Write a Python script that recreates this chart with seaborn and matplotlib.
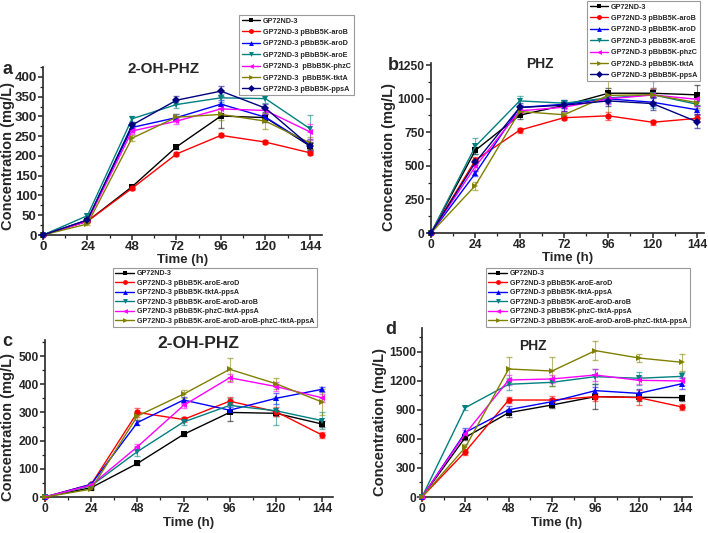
import numpy as np
import pandas as pd
import matplotlib
matplotlib.use('Agg')
import matplotlib.pyplot as plt
from matplotlib.lines import Line2D
from matplotlib.ticker import MultipleLocator
import seaborn as sns

sns.set_style('ticks')
plt.rcParams['font.family'] = ['Liberation Sans', 'DejaVu Sans']
plt.rcParams['font.weight'] = 'bold'
plt.rcParams['axes.labelweight'] = 'bold'

# %% data
time_h = [0, 24, 48, 72, 96, 120, 144]

# panels a/b: single-gene overexpression strains
a_strains = ['GP72ND-3', 'GP72ND-3 pBbB5K-aroB', 'GP72ND-3 pBbB5K-aroD',
             'GP72ND-3 pBbB5K-aroE', 'GP72ND-3  pBbB5K-phzC',
             'GP72ND-3  pBbB5K-tktA', 'GP72ND-3 pBbB5K-ppsA']
b_strains = ['GP72ND-3', 'GP72ND-3 pBbB5K-aroB', 'GP72ND-3 pBbB5K-aroD',
             'GP72ND-3 pBbB5K-aroE', 'GP72ND-3 pBbB5K-phzC',
             'GP72ND-3 pBbB5K-tktA', 'GP72ND-3 pBbB5K-ppsA']
# panels c/d: combined overexpression strains
cd_strains = ['GP72ND-3', 'GP72ND-3 pBbB5K-aroE-aroD', 'GP72ND-3 pBbB5K-tktA-ppsA',
              'GP72ND-3 pBbB5K-aroE-aroD-aroB', 'GP72ND-3 pBbB5K-phzC-tktA-ppsA',
              'GP72ND-3 pBbB5K-aroE-aroD-aroB-phzC-tktA-ppsA']

# 2-OH-PHZ (mg/L), panel a
a_conc = [[0, 35, 122, 223, 301, 297, 225],
          [0, 35, 118, 205, 252, 235, 208],
          [0, 38, 272, 297, 331, 298, 227],
          [0, 49, 294, 330, 347, 345, 269],
          [0, 35, 263, 288, 319, 315, 261],
          [0, 28, 245, 298, 305, 288, 233],
          [0, 38, 278, 341, 364, 321, 225]]
a_err = [[0, 3, 5, 5, 30, 10, 8],
         [0, 3, 5, 5, 5, 5, 5],
         [0, 3, 8, 8, 10, 8, 15],
         [0, 4, 8, 8, 10, 10, 35],
         [0, 3, 8, 8, 10, 10, 20],
         [0, 3, 8, 8, 15, 20, 15],
         [0, 3, 8, 10, 12, 10, 10]]

# PHZ (mg/L), panel b
b_conc = [[0, 615, 877, 949, 1040, 1040, 1028],
          [0, 542, 765, 858, 872, 824, 853],
          [0, 444, 934, 958, 998, 973, 917],
          [0, 645, 983, 966, 1005, 1029, 958],
          [0, 495, 909, 936, 998, 1027, 995],
          [0, 353, 904, 880, 1024, 1029, 970],
          [0, 525, 934, 951, 983, 963, 828]]
b_err = [[0, 25, 25, 20, 40, 30, 75],
         [0, 20, 20, 20, 30, 20, 30],
         [0, 20, 20, 25, 30, 30, 30],
         [0, 60, 40, 25, 30, 100, 40],
         [0, 25, 25, 25, 40, 50, 50],
         [0, 30, 25, 20, 150, 50, 40],
         [0, 20, 30, 40, 40, 50, 50]]

# 2-OH-PHZ (mg/L), panel c
c_conc = [[0, 33, 119, 222, 300, 297, 259],
          [0, 45, 300, 275, 340, 303, 220],
          [0, 45, 264, 344, 308, 350, 382],
          [0, 40, 161, 266, 325, 306, 271],
          [0, 42, 178, 325, 423, 392, 352],
          [0, 28, 287, 365, 453, 402, 337]]
c_err = [[0, 3, 5, 5, 30, 10, 10],
         [0, 4, 15, 10, 15, 15, 10],
         [0, 4, 10, 10, 10, 20, 10],
         [0, 4, 15, 10, 25, 50, 30],
         [0, 4, 10, 10, 15, 15, 15],
         [0, 4, 15, 15, 40, 20, 45]]

# PHZ (mg/L), panel d
d_conc = [[0, 617, 872, 952, 1038, 1031, 1028],
          [0, 469, 1003, 1003, 1038, 1028, 931],
          [0, 669, 903, 986, 1100, 1072, 1172],
          [0, 924, 1166, 1186, 1245, 1228, 1248],
          [0, 655, 1210, 1221, 1262, 1207, 1200],
          [0, 514, 1324, 1303, 1514, 1438, 1393]]
d_err = [[0, 30, 40, 30, 130, 40, 30],
         [0, 30, 30, 40, 40, 80, 30],
         [0, 40, 40, 40, 40, 40, 60],
         [0, 20, 60, 40, 80, 70, 50],
         [0, 40, 50, 40, 60, 40, 40],
         [0, 30, 120, 150, 100, 40, 90]]

colors7 = ['#000000', '#ff0000', '#0000ff', '#008080', '#ff00ff', '#808000', '#000080']
markers7 = ['s', 'o', '^', 'v', '<', '>', 'D']

W, H = 708, 533
fig = plt.figure(figsize=(W / 100, H / 100), dpi=100)


def px(x, y):
    return x / W, 1 - y / H


def draw_panel(rect, strains, conc, err, xmax, ymax, ymaj, tick_fs,
               ylab_xy, xlab_y, leg_xy, leg_fs, leg_space):
    ax = fig.add_axes(rect)
    colors = colors7[:len(strains)]
    markers = markers7[:len(strains)]
    rows = []
    for s, vals in zip(strains, conc):
        for t, v in zip(time_h, vals):
            rows.append((s, t, v))
    df = pd.DataFrame(rows, columns=['strain', 'time', 'conc'])

    for c, vals, e in zip(colors, conc, err):
        ax.errorbar(time_h, vals, yerr=e, fmt='none', ecolor=c, elinewidth=0.8,
                    capsize=2, alpha=0.55, zorder=1, clip_on=False)

    sns.lineplot(data=df, x='time', y='conc', hue='strain', style='strain',
                 hue_order=strains, style_order=strains,
                 palette=dict(zip(strains, colors)), markers=dict(zip(strains, markers)),
                 dashes=False, markersize=4.5, linewidth=1, mew=0,
                 legend=False, ax=ax, clip_on=False, zorder=3)

    ax.set_xlim(0, xmax)
    ax.set_ylim(0, ymax)
    ax.xaxis.set_major_locator(MultipleLocator(24))
    ax.xaxis.set_minor_locator(MultipleLocator(12))
    ax.yaxis.set_major_locator(MultipleLocator(ymaj))
    ax.yaxis.set_minor_locator(MultipleLocator(ymaj / 2))
    for side in ['top', 'right']:
        ax.spines[side].set_visible(False)
    for side in ['left', 'bottom']:
        ax.spines[side].set_linewidth(1.2)
    ax.tick_params(which='major', direction='out', length=3.5, width=1.1,
                   labelsize=tick_fs, pad=1)
    ax.tick_params(which='minor', direction='out', length=2, width=0.9)

    ax.set_xlabel('Time (h)', fontsize=9.5, fontweight='bold')
    ax.set_ylabel('Concentration (mg/L)', fontsize=10.5, fontweight='bold')
    ax.yaxis.set_label_coords(*ylab_xy)
    ax.xaxis.set_label_coords(0.5, xlab_y)

    handles = [Line2D([], [], color=c, marker=m, markersize=3.5, lw=1, mew=0)
               for c, m in zip(colors, markers)]
    leg = ax.legend(handles, strains, loc='upper left', bbox_to_anchor=leg_xy,
                    bbox_transform=fig.transFigure, fontsize=leg_fs,
                    handlelength=2.6, handletextpad=0.4, labelspacing=leg_space,
                    borderpad=0.35, borderaxespad=0, fancybox=False, framealpha=1,
                    edgecolor='#9a9a9a')
    leg.get_frame().set_linewidth(0.8)
    return ax


draw_panel([43 / W, 1 - 235 / H, 279 / W, 168 / H], a_strains, a_conc, a_err,
           150.5, 425, 50, 9.5, (-0.10, 0.47), -0.115, px(239, 15), 5.2, 0.6)
draw_panel([431 / W, 1 - 233 / H, 273 / W, 170 / H], b_strains, b_conc, b_err,
           147.8, 1265, 250, 8.7, (-0.128, 0.447), -0.112, px(587, 1), 5.2, 0.6)
draw_panel([45 / W, 1 - 497 / H, 288 / W, 157 / H], cd_strains, c_conc, c_err,
           149.7, 557, 100, 8.7, (-0.104, 0.446), -0.127, px(113, 268), 5.1, 0.35)
draw_panel([422 / W, 1 - 497 / H, 270 / W, 169 / H], cd_strains, d_conc, d_err,
           149.5, 1748, 300, 8.7, (-0.13, 0.444), -0.118, px(486, 268), 5.1, 0.35)

# panel titles and letters
for (x, y), txt, fs in [((164, 69), '2-OH-PHZ', 11), ((540, 64), 'PHZ', 10),
                        ((198, 344), '2-OH-PHZ', 12.5), ((533, 346), 'PHZ', 10)]:
    fig.text(*px(x, y), txt, ha='center', va='center', fontsize=fs, fontweight='bold')
for (x, y), txt in [((7, 69), 'a'), ((393, 66), 'b'), ((7, 342), 'c'), ((391, 330), 'd')]:
    fig.text(*px(x, y), txt, ha='center', va='center', fontsize=13, fontweight='bold')

fig.savefig('out.png', dpi=100)
